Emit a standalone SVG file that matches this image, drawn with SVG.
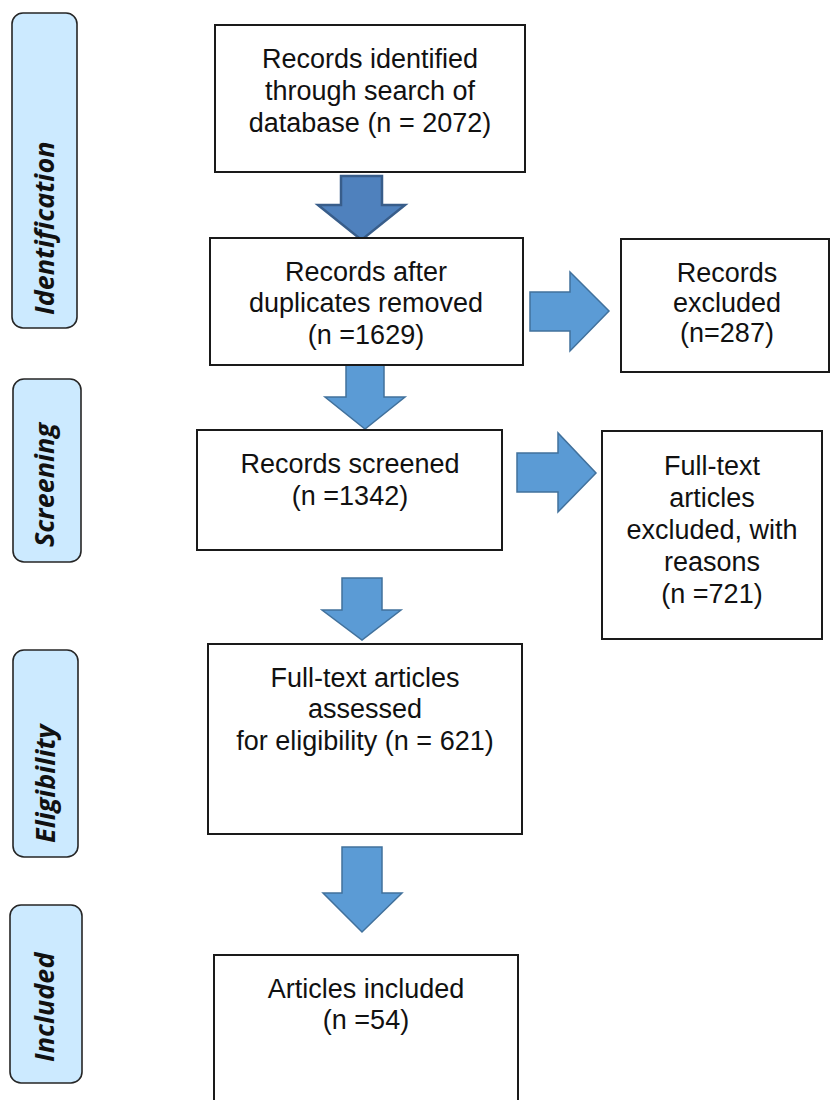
<svg xmlns="http://www.w3.org/2000/svg" width="831" height="1100" viewBox="0 0 831 1100">
<style>
.bg{fill:#ffffff}
.box{fill:#ffffff;stroke:#1a1a1a;stroke-width:2}
.side{fill:#cceaff;stroke:#262626;stroke-width:1.6}
.t{font-family:"Liberation Sans",Arial,sans-serif;font-size:27px;fill:#111;text-anchor:middle}
.s{font-family:"Open Sans","DejaVu Sans",sans-serif;font-size:27px;font-weight:bold;font-style:italic;fill:#111}
.a1{fill:#4f81bd;stroke:#385d8a;stroke-width:2.5;stroke-linejoin:miter}
.a{fill:#5b9bd5;stroke:#41719c;stroke-width:1.5;stroke-linejoin:miter}
</style>
<rect class="bg" x="0" y="0" width="831" height="1100"/>

<g id="stage-identification">
<rect class="side" x="12" y="13" width="65" height="315" rx="11"/>
<text class="s" transform="translate(54,315) rotate(-90)">Identification</text>
</g>
<g id="stage-screening">
<rect class="side" x="13" y="379" width="68" height="183" rx="11"/>
<text class="s" transform="translate(54,547) rotate(-90)">Screening</text>
</g>
<g id="stage-eligibility">
<rect class="side" x="13" y="650" width="65" height="207" rx="11"/>
<text class="s" transform="translate(55,843) rotate(-90)">Eligibility</text>
</g>
<g id="stage-included">
<rect class="side" x="10" y="905" width="72" height="178" rx="11"/>
<text class="s" transform="translate(54,1062) rotate(-90)">Included</text>
</g>

<g id="connectors">
<polygon class="a1" points="341,176 382,176 382,205 405,205 361.5,240 318,205 341,205"/>
<polygon class="a" points="530,292 570,292 570,272 609,311 570,351 570,331 530,331"/>
<polygon class="a" points="346,365 384,365 384,397 405,397 365,429 325,397 346,397"/>
<polygon class="a" points="517,453 558,453 558,433 596,473 558,512 558,492 517,492"/>
<polygon class="a" points="342,578 382,578 382,610 401,610 362,640 322,610 342,610"/>
<polygon class="a" points="342,847 382,847 382,893 402,893 362,932 323,893 342,893"/>
</g>

<g id="node-identified">
<rect class="box" x="215" y="25" width="310" height="147"/>
<text class="t" x="370" y="68">Records identified</text>
<text class="t" x="370" y="100">through search of</text>
<text class="t" x="370" y="132">database (n = 2072)</text>
</g>
<g id="node-duplicates">
<rect class="box" x="210" y="238" width="313" height="127"/>
<text class="t" x="366" y="281">Records after</text>
<text class="t" x="366" y="312">duplicates removed</text>
<text class="t" x="366" y="344">(n =1629)</text>
</g>
<g id="node-excluded">
<rect class="box" x="621" y="239" width="208" height="133"/>
<text class="t" x="727" y="282">Records</text>
<text class="t" x="727" y="312">excluded</text>
<text class="t" x="727" y="342">(n=287)</text>
</g>
<g id="node-screened">
<rect class="box" x="197" y="430" width="305" height="120"/>
<text class="t" x="350" y="473">Records screened</text>
<text class="t" x="350" y="505">(n =1342)</text>
</g>
<g id="node-ft-excluded">
<rect class="box" x="602" y="431" width="220" height="208"/>
<text class="t" x="712" y="475">Full-text</text>
<text class="t" x="712" y="507">articles</text>
<text class="t" x="712" y="539">excluded, with</text>
<text class="t" x="712" y="571">reasons</text>
<text class="t" x="712" y="603">(n =721)</text>
</g>
<g id="node-assessed">
<rect class="box" x="208" y="644" width="314" height="190"/>
<text class="t" x="365" y="687">Full-text articles</text>
<text class="t" x="365" y="718">assessed</text>
<text class="t" x="365" y="750">for eligibility (n = 621)</text>
</g>
<g id="node-included">
<rect class="box" x="214" y="955" width="304" height="160"/>
<text class="t" x="366" y="998">Articles included</text>
<text class="t" x="366" y="1029">(n =54)</text>
</g>
</svg>
